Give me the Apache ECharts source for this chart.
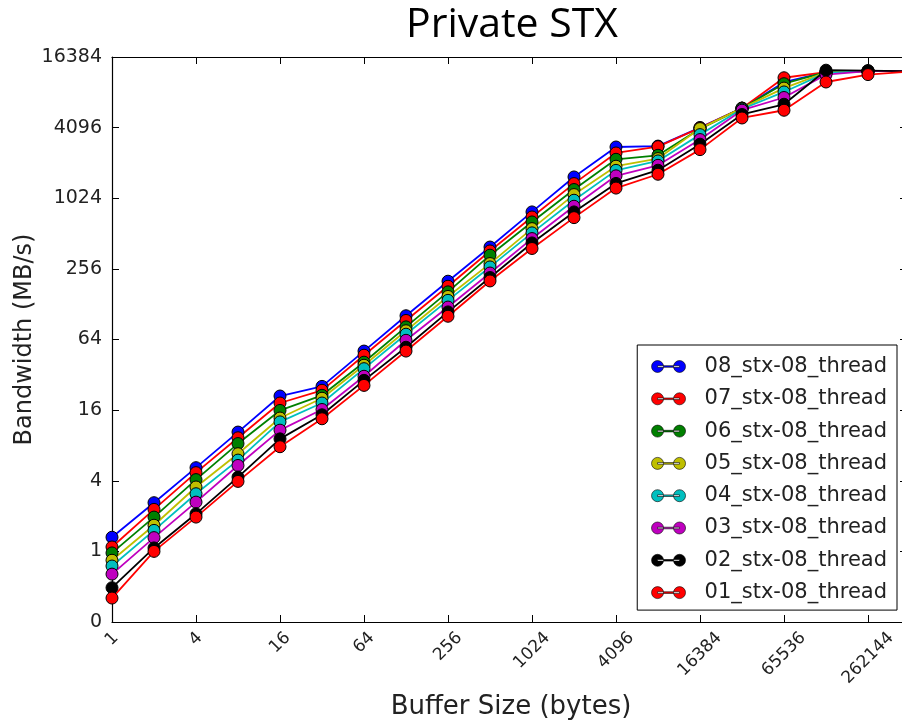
<!DOCTYPE html>
<html>
<head>
<meta charset="utf-8">
<script src="https://cdn.jsdelivr.net/npm/echarts@6/dist/echarts.min.js"></script>
<style>
    html, body { margin: 0; padding: 0; background: #fff; }
    #chart { width: 902px; height: 725px; }
</style>
</head>
<body>
<div id="chart"></div>
<script>
// buffer sizes (bytes)
var sizes = [1, 2, 4, 8, 16, 32, 64, 128, 256, 512, 1024, 2048, 4096, 8192,
    16384, 32768, 65536, 131072, 262144, 524288];

// bandwidth (MB/s) per series
var s08 = [1.32, 2.60, 5.17, 10.4, 21.1, 25.5, 51, 102, 201, 393, 783, 1555, 2800, 2850, 4100, 6000, 10000, 12200, 12400, 12400];
var s07 = [1.09, 2.28, 4.69, 9.3, 18.4, 23.6, 47, 93, 182, 364, 709, 1365, 2490, 2820, 4080, 6000, 10900, 12200, 12400, 12400];
var s06 = [0.97, 1.96, 4.09, 8.3, 15.9, 21.4, 41, 82, 163, 335, 643, 1215, 2200, 2380, 4000, 6000, 9700, 12200, 12400, 12400];
var s05 = [0.84, 1.67, 3.54, 6.8, 13.7, 20.2, 38.6, 76, 149, 284, 564, 1100, 1920, 2230, 4020, 6000, 8900, 12100, 12400, 12400];
var s04 = [0.75, 1.51, 3.10, 6.0, 12.7, 18.4, 36.1, 71, 138, 266, 519, 985, 1770, 2130, 3570, 5900, 8250, 12000, 12400, 12400];
var s03 = [0.64, 1.31, 2.63, 5.4, 10.8, 16.2, 31.1, 63, 121, 236, 464, 875, 1590, 1955, 3240, 5770, 7400, 11600, 12400, 12400];
var s02 = [0.49, 1.07, 2.09, 4.3, 9.1, 14.6, 28.7, 55, 110, 216, 426, 783, 1370, 1775, 2960, 5300, 6480, 12650, 12550, 12400];
var s01 = [0.40, 1.00, 1.96, 3.95, 7.8, 13.5, 26, 51, 101, 202, 382, 700, 1250, 1640, 2660, 4950, 5760, 10030, 11600, 12300];

var names = ['08_stx-08_thread', '07_stx-08_thread', '06_stx-08_thread', '05_stx-08_thread',
    '04_stx-08_thread', '03_stx-08_thread', '02_stx-08_thread', '01_stx-08_thread'];
var values = [s08, s07, s06, s05, s04, s03, s02, s01];
var colors = ['#0000ff', '#ff0000', '#008000', '#bfbf00', '#00bfbf', '#bf00bf', '#000000', '#ff0000'];

// legend marker: dot - line - dot
var legendIcon = 'path://M0,6a6,6 0 1,0 12,0a6,6 0 1,0 -12,0Z M22,6a6,6 0 1,0 12,0a6,6 0 1,0 -12,0Z M6,5.2L28,5.2L28,6.8L6,6.8Z';

var font = 'DejaVu Sans';

// rotated x labels are centred on their tick (matplotlib style):
// longer labels get pushed further down via padding
var xRich = {};
for (var n = 1; n <= 6; n++) {
    var p = 5.4 * (n - 1);
    xRich['l' + n] = { fontFamily: font, fontSize: 17, color: '#222', padding: [p, p, 0, 0] };
}

var series = names.map(function (name, i) {
    return {
        name: name,
        type: 'line',
        xAxisIndex: 0,
        yAxisIndex: 0,
        symbol: 'circle',
        symbolSize: 12,
        color: colors[i],
        lineStyle: { width: 1.8, color: colors[i] },
        itemStyle: { color: colors[i], borderColor: '#000', borderWidth: 1 },
        animation: false,
        data: sizes.map(function (s, k) { return [s, values[i][k]]; })
    };
});

var logX = { type: 'log', logBase: 2, min: 1, max: 524288, interval: 2 };
var logY = { type: 'log', logBase: 2, min: 0.25, max: 16384, interval: 2 };

var option = {
    animation: false,
    title: {
        text: 'Private STX',
        left: 507,
        top: 0,
        textAlign: 'center',
        textStyle: { fontFamily: 'Open Sans', fontSize: 41, fontWeight: 'normal', color: '#000' }
    },
    legend: {
        data: names.map(function (n) { return { name: n, icon: legendIcon }; }),
        orient: 'vertical',
        right: 5,
        top: 345,
        itemWidth: 34,
        itemHeight: 12,
        itemGap: 11.3,
        padding: [11, 10, 7, 14],
        backgroundColor: '#fff',
        borderColor: '#000',
        borderWidth: 1,
        borderRadius: 0,
        itemStyle: { borderWidth: 0.6 },
        textStyle: { fontFamily: font, fontSize: 21, color: '#222', lineHeight: 20, padding: [0, 0, 0, 14] }
    },
    grid: { left: 112, right: -8, top: 57, bottom: 103, outerBoundsMode: 'none' },
    xAxis: [
        Object.assign({}, logX, {
            position: 'bottom',
            name: 'Buffer Size (bytes)',
            nameLocation: 'middle',
            nameGap: 64,
            nameTextStyle: { fontFamily: font, fontSize: 26, color: '#222' },
            axisLine: { lineStyle: { color: '#000', width: 1.2 } },
            axisTick: { inside: true, length: 7, lineStyle: { color: '#000' } },
            axisLabel: {
                rotate: 45, margin: 17, align: 'center', verticalAlign: 'middle',
                fontFamily: font, fontSize: 17, color: '#222',
                showMaxLabel: false,
                formatter: function (v) {
                    var t = String(Math.round(v));
                    return '{l' + t.length + '|' + t + '}';
                },
                rich: xRich
            },
            splitLine: { show: false }
        }),
        Object.assign({}, logX, {
            position: 'top',
            axisLine: { lineStyle: { color: '#000', width: 1.2 } },
            axisTick: { inside: true, length: 7, lineStyle: { color: '#000' } },
            axisLabel: { show: false },
            splitLine: { show: false }
        })
    ],
    yAxis: [
        Object.assign({}, logY, {
            position: 'left',
            name: 'Bandwidth (MB/s)',
            nameLocation: 'middle',
            nameGap: 75,
            nameMoveOverlap: false,
            nameTextStyle: { fontFamily: font, fontSize: 24, color: '#222' },
            axisLine: { lineStyle: { color: '#000', width: 1.2 } },
            axisTick: { inside: true, length: 7, lineStyle: { color: '#000' } },
            axisLabel: {
                margin: 10, fontFamily: font, fontSize: 19, color: '#222',
                formatter: function (v) { return Math.round(v); }
            },
            splitLine: { show: false }
        }),
        Object.assign({}, logY, {
            position: 'right',
            axisLine: { lineStyle: { color: '#000', width: 1.2 } },
            axisTick: { inside: true, length: 10, lineStyle: { color: '#000' } },
            axisLabel: { show: false },
            splitLine: { show: false }
        })
    ],
    series: series
};

var chart = echarts.init(document.getElementById('chart'));
chart.setOption(option);

window.addEventListener('resize', function () {
    chart.resize();
});
</script>
</body>
</html>
